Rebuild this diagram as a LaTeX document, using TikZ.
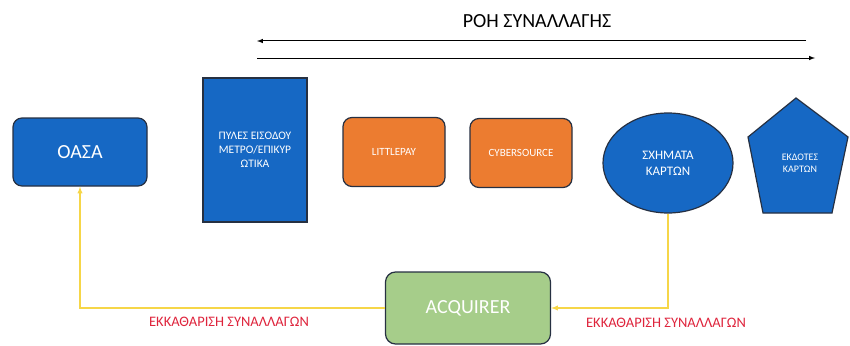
\documentclass[tikz,border=0pt]{standalone}
\usepackage{fontspec}
\setmainfont{Carlito}
\usepackage{xcolor}
\usetikzlibrary{positioning,shapes.geometric}

\definecolor{boxblue}{RGB}{22,104,196}
\definecolor{boxorange}{RGB}{236,124,48}
\definecolor{boxgreen}{RGB}{166,205,138}
\definecolor{edgedark}{RGB}{38,48,66}
\definecolor{settle}{RGB}{246,214,72}
\definecolor{labelred}{RGB}{222,36,60}

\begin{document}
\begin{tikzpicture}[
    x=1pt, y=-1pt,
    bluebox/.style={
      draw=edgedark,
      fill=boxblue,
      line width=1.2pt,
      text=white,
      inner sep=0pt
    },
    orangebox/.style={
      draw=edgedark,
      fill=boxorange,
      line width=1.2pt,
      rounded corners=9pt,
      text=white,
      minimum width=102pt,
      minimum height=69pt,
      font=\fontsize{11}{13}\selectfont
    },
    redlabel/.style={
      text=labelred,
      font=\fontsize{14.5}{16}\selectfont
    },
    >=latex
    ]
    \useasboundingbox (0,0) rectangle (850,345);

    % upper row
    \node[bluebox,rounded corners=9pt,minimum width=134pt,minimum height=68pt,
      font=\fontsize{20}{24}\selectfont] (oasa) at (80,152) {ΟΑΣΑ};
    \node[bluebox,minimum width=104pt,minimum height=144pt,align=center,
      font=\fontsize{11.5}{14}\selectfont] (gates) at (255,150)
      {ΠΥΛΕΣ ΕΙΣΟΔΟΥ\\ΜΕΤΡΟ/ΕΠΙΚΥΡ\\ΩΤΙΚΑ};
    \node[orangebox] (littlepay) at (394,152) {LITTLEPAY};
    \node[orangebox] (cybersource) at (521,153) {CYBERSOURCE};
    \node[bluebox,ellipse,minimum width=130pt,minimum height=100pt,align=center,
      font=\fontsize{13}{16}\selectfont] (schemes) at (668,163)
      {ΣΧΗΜΑΤΑ\\ΚΑΡΤΩΝ};
    \draw[bluebox] (796,98) -- (848,137) -- (832,213) -- (763,213) -- (748,137) -- cycle;
    \node[text=white,align=center,font=\fontsize{10}{12}\selectfont] (issuers) at (800,163)
      {ΕΚΔΟΤΕΣ\\ΚΑΡΤΩΝ};

    % flow arrows
    \node[font=\fontsize{20}{24}\selectfont] (flow) at (537,21) {ΡΟΗ ΣΥΝΑΛΛΑΓΗΣ};
    \coordinate (back1) at (806,41);
    \coordinate (back2) at (257,41);
    \coordinate (fwd1) at (257,58);
    \coordinate (fwd2) at (815,58);
    \draw[->,line width=1pt] (back1) -- (back2);
    \draw[->,line width=1pt] (fwd1) -- (fwd2);

    % settlement
    \node[bluebox,fill=boxgreen,rounded corners=10pt,minimum width=165pt,minimum height=72pt,
      font=\fontsize{20}{24}\selectfont] (acq) at (468,308) {ACQUIRER};
    \draw[->,settle,line width=1.3pt] (schemes.south) |- (acq.east);
    \draw[->,settle,line width=1.3pt] (acq.west) -| (oasa.south);
    \node[redlabel] (settleL) at (229,322) {ΕΚΚΑΘΑΡΙΣΗ ΣΥΝΑΛΛΑΓΩΝ};
    \node[redlabel] (settleR) at (666,323) {ΕΚΚΑΘΑΡΙΣΗ ΣΥΝΑΛΛΑΓΩΝ};

\end{tikzpicture}
\end{document}
